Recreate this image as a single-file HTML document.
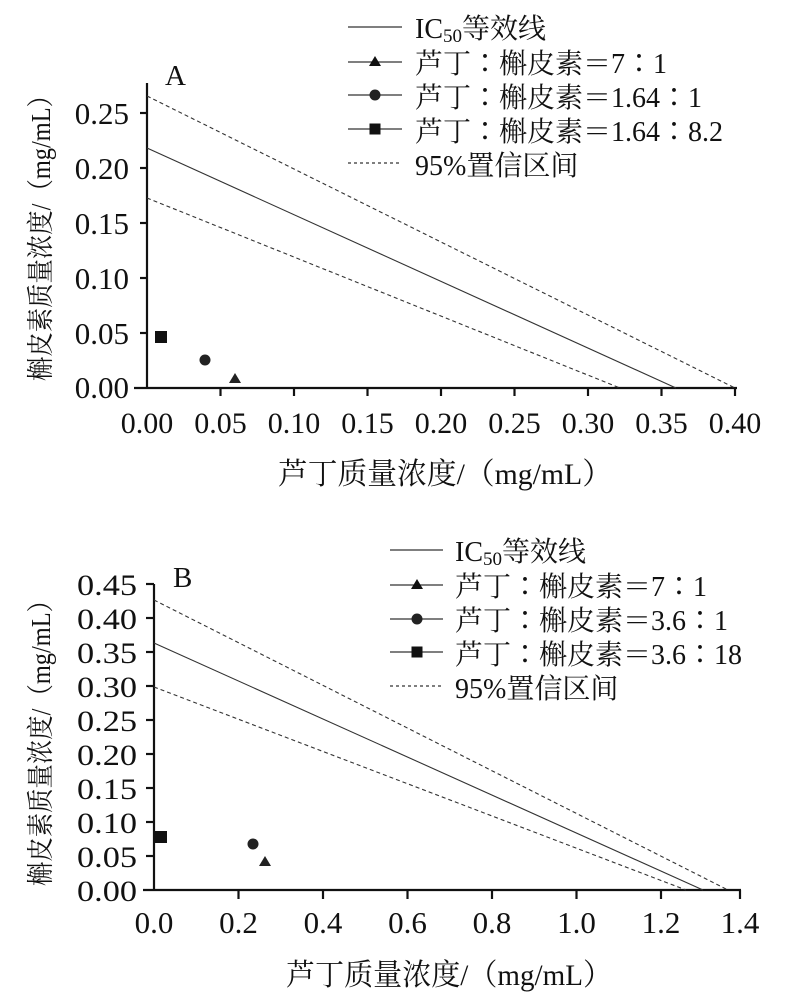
<!DOCTYPE html>
<html><head><meta charset="utf-8"><style>
html,body{margin:0;padding:0;background:#fff;}
svg{display:block;}
text{font-family:"Liberation Serif","Noto Serif CJK SC",serif;fill:#111;}
</style></head><body>
<svg width="787" height="1001" viewBox="0 0 787 1001" xmlns="http://www.w3.org/2000/svg">
<!-- Panel A -->
<g stroke="#111" stroke-width="2.2" fill="none">
<line x1="147" y1="83" x2="147" y2="388"/>
<line x1="134" y1="388" x2="737" y2="388"/>
<line x1="140" y1="113" x2="147" y2="113"/>
<line x1="140" y1="168" x2="147" y2="168"/>
<line x1="140" y1="223" x2="147" y2="223"/>
<line x1="140" y1="278" x2="147" y2="278"/>
<line x1="140" y1="333" x2="147" y2="333"/>
<line x1="220.5" y1="388" x2="220.5" y2="396"/>
<line x1="294" y1="388" x2="294" y2="396"/>
<line x1="367.5" y1="388" x2="367.5" y2="396"/>
<line x1="441" y1="388" x2="441" y2="396"/>
<line x1="514.5" y1="388" x2="514.5" y2="396"/>
<line x1="588" y1="388" x2="588" y2="396"/>
<line x1="661.5" y1="388" x2="661.5" y2="396"/>
<line x1="735" y1="388" x2="735" y2="396"/>
</g>
<g stroke="#333" stroke-width="1.1" fill="none">
<line x1="147" y1="148" x2="676" y2="388"/>
<line x1="147" y1="96" x2="735" y2="388" stroke-dasharray="4,3"/>
<line x1="147" y1="198" x2="620" y2="388" stroke-dasharray="4,3"/>
</g>
<rect x="155" y="331" width="12" height="12" fill="#111"/>
<circle cx="205" cy="360" r="5.5" fill="#222"/>
<polygon points="235,373 241,383 229,383" fill="#222"/>
<g font-size="31" text-anchor="end">
<text x="129" y="124">0.25</text><text x="129" y="179">0.20</text><text x="129" y="234">0.15</text>
<text x="129" y="289">0.10</text><text x="129" y="344">0.05</text><text x="129" y="398">0.00</text>
</g>
<g font-size="30" text-anchor="middle">
<text x="147" y="433">0.00</text><text x="220.5" y="433">0.05</text><text x="294" y="433">0.10</text>
<text x="367.5" y="433">0.15</text><text x="441" y="433">0.20</text><text x="514.5" y="433">0.25</text>
<text x="588" y="433">0.30</text><text x="661.5" y="433">0.35</text><text x="735" y="433">0.40</text>
</g>
<text x="165" y="85" font-size="29">A</text>
<text x="278" y="484" font-size="30" textLength="334" lengthAdjust="spacingAndGlyphs">芦丁质量浓度/（mg/mL）</text>
<text transform="translate(50,232) rotate(-90)" font-size="27" text-anchor="middle" textLength="298" lengthAdjust="spacingAndGlyphs">槲皮素质量浓度/（mg/mL）</text>
<!-- Legend A -->
<g stroke="#333" stroke-width="1.2">
<line x1="348" y1="27" x2="402" y2="27"/>
<line x1="348" y1="62" x2="402" y2="62"/>
<line x1="348" y1="95" x2="402" y2="95"/>
<line x1="348" y1="129" x2="402" y2="129"/>
<line x1="348" y1="163" x2="402" y2="163" stroke-dasharray="3,3"/>
</g>
<polygon points="375,56 381,66 369,66" fill="#111"/>
<circle cx="375" cy="95" r="5.5" fill="#222"/>
<rect x="369.5" y="123.5" width="11" height="11" fill="#111"/>
<g font-size="28">
<text x="415" y="38">IC<tspan font-size="19" dy="4">50</tspan><tspan dy="-4">等效线</tspan></text>
<text x="415" y="73">芦丁∶槲皮素＝7∶1</text>
<text x="415" y="107">芦丁∶槲皮素＝1.64∶1</text>
<text x="415" y="141">芦丁∶槲皮素＝1.64∶8.2</text>
<text x="415" y="175">95%置信区间</text>
</g>
<!-- Panel B -->
<g stroke="#111" stroke-width="2.2" fill="none">
<line x1="154" y1="584" x2="154" y2="890"/>
<line x1="143" y1="890" x2="741" y2="890"/>
<line x1="146" y1="584" x2="154" y2="584"/>
<line x1="146" y1="618" x2="154" y2="618"/>
<line x1="146" y1="652" x2="154" y2="652"/>
<line x1="146" y1="686" x2="154" y2="686"/>
<line x1="146" y1="720" x2="154" y2="720"/>
<line x1="146" y1="754" x2="154" y2="754"/>
<line x1="146" y1="788" x2="154" y2="788"/>
<line x1="146" y1="822" x2="154" y2="822"/>
<line x1="146" y1="856" x2="154" y2="856"/>
<line x1="238.5" y1="890" x2="238.5" y2="899"/>
<line x1="323" y1="890" x2="323" y2="899"/>
<line x1="407.5" y1="890" x2="407.5" y2="899"/>
<line x1="492" y1="890" x2="492" y2="899"/>
<line x1="576.5" y1="890" x2="576.5" y2="899"/>
<line x1="661" y1="890" x2="661" y2="899"/>
<line x1="740" y1="890" x2="740" y2="899"/>
</g>
<g stroke="#333" stroke-width="1.1" fill="none">
<line x1="154" y1="643" x2="703" y2="890"/>
<line x1="154" y1="600" x2="728" y2="890" stroke-dasharray="4,3"/>
<line x1="154" y1="687" x2="686" y2="890" stroke-dasharray="4,3"/>
</g>
<rect x="155" y="831" width="12" height="12" fill="#111"/>
<circle cx="253" cy="844" r="5.5" fill="#222"/>
<polygon points="265,856 271,866 259,866" fill="#222"/>
<g font-size="30" text-anchor="end">
<text x="137" y="595" textLength="60" lengthAdjust="spacingAndGlyphs">0.45</text><text x="137" y="629" textLength="60" lengthAdjust="spacingAndGlyphs">0.40</text><text x="137" y="663" textLength="60" lengthAdjust="spacingAndGlyphs">0.35</text>
<text x="137" y="697" textLength="60" lengthAdjust="spacingAndGlyphs">0.30</text><text x="137" y="731" textLength="60" lengthAdjust="spacingAndGlyphs">0.25</text><text x="137" y="765" textLength="60" lengthAdjust="spacingAndGlyphs">0.20</text>
<text x="137" y="799" textLength="60" lengthAdjust="spacingAndGlyphs">0.15</text><text x="137" y="833" textLength="60" lengthAdjust="spacingAndGlyphs">0.10</text><text x="137" y="867" textLength="60" lengthAdjust="spacingAndGlyphs">0.05</text>
<text x="137" y="901" textLength="60" lengthAdjust="spacingAndGlyphs">0.00</text>
</g>
<g font-size="31" text-anchor="middle">
<text x="154" y="933">0.0</text><text x="238.5" y="933">0.2</text><text x="323" y="933">0.4</text>
<text x="407.5" y="933">0.6</text><text x="492" y="933">0.8</text><text x="576.5" y="933">1.0</text>
<text x="661" y="933">1.2</text><text x="740" y="933">1.4</text>
</g>
<text x="173" y="587" font-size="29">B</text>
<text x="286" y="985" font-size="30" textLength="326" lengthAdjust="spacingAndGlyphs">芦丁质量浓度/（mg/mL）</text>
<text transform="translate(50,737) rotate(-90)" font-size="27" text-anchor="middle" textLength="298" lengthAdjust="spacingAndGlyphs">槲皮素质量浓度/（mg/mL）</text>
<!-- Legend B -->
<g stroke="#333" stroke-width="1.2">
<line x1="390" y1="550" x2="443" y2="550"/>
<line x1="390" y1="585" x2="443" y2="585"/>
<line x1="390" y1="619" x2="443" y2="619"/>
<line x1="390" y1="652" x2="443" y2="652"/>
<line x1="390" y1="686" x2="443" y2="686" stroke-dasharray="3,3"/>
</g>
<polygon points="417,579 423,589 411,589" fill="#111"/>
<circle cx="417" cy="619" r="5.5" fill="#222"/>
<rect x="411.5" y="646.5" width="11" height="11" fill="#111"/>
<g font-size="28">
<text x="455" y="561">IC<tspan font-size="19" dy="4">50</tspan><tspan dy="-4">等效线</tspan></text>
<text x="455" y="596">芦丁∶槲皮素＝7∶1</text>
<text x="455" y="630">芦丁∶槲皮素＝3.6∶1</text>
<text x="455" y="664">芦丁∶槲皮素＝3.6∶18</text>
<text x="455" y="698">95%置信区间</text>
</g>
</svg>
</body></html>
